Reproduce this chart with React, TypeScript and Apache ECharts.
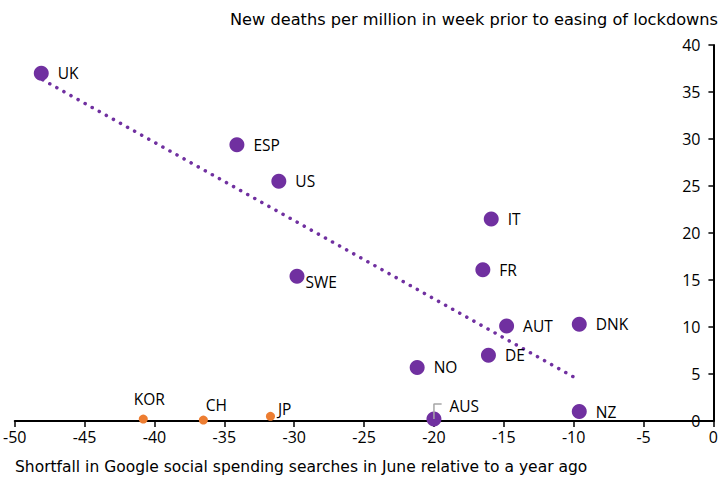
import React, { useEffect, useRef } from "react";
import * as echarts from "echarts";

const PURPLE = "#7030A0";
const ORANGE = "#ED7D31";

// Purple group: [shortfall, deaths]
const purpleNames = ["UK", "ESP", "US", "SWE", "IT", "FR", "AUT", "DNK", "DE", "NO", "AUS", "NZ"];
const purpleX = [-48.1, -34.1, -31.1, -29.8, -15.9, -16.5, -14.8, -9.6, -16.1, -21.2, -20.0, -9.6];
const purpleY = [37.0, 29.4, 25.5, 15.4, 21.5, 16.1, 10.1, 10.3, 7.0, 5.7, 0.2, 1.0];

// Orange group
const orangeNames = ["KOR", "CH", "JP"];
const orangeX = [-40.8, -36.5, -31.7];
const orangeY = [0.2, 0.1, 0.5];

// Linear trend line (purple group), endpoints
const trendX = [-48.0, -9.9];
const trendY = [36.3, 4.6];

const xTicks = { min: -50, max: 0, interval: 5 };
const yTicks = { min: 0, max: 40, interval: 5 };

const xTitle = "Shortfall in Google social spending searches in June relative to a year ago";
const yTitle = "New deaths per million in week prior to easing of lockdowns";

const LABEL_FONT = "'Open Sans', 'Noto Sans', sans-serif";
const TITLE_FONT = "'DejaVu Sans', 'Liberation Sans', Arial, sans-serif";

export default function App() {
  const ref = useRef<HTMLDivElement>(null);

  useEffect(() => {
    if (!ref.current) return;
    const chart = echarts.init(ref.current, undefined, { renderer: "svg" });

    const purpleData = purpleNames.map((name, i) => {
      const item: any = { name, value: [purpleX[i], purpleY[i]] };
      if (name === "SWE") item.label = { offset: [-8, 6] };
      if (name === "AUS") {
        item.label = { position: "right", distance: 8, offset: [0, -13] };
      }
      return item;
    });

    const orangeData = orangeNames.map((name, i) => {
      const item: any = { name, value: [orangeX[i], orangeY[i]] };
      if (name === "KOR") item.label = { position: "top", distance: 8, offset: [6, 0] };
      if (name === "CH") item.label = { position: "top", distance: 3, offset: [13, 0] };
      if (name === "JP") item.label = { position: "right", distance: 3, offset: [0, -7] };
      return item;
    });

    const trend = trendX.map((x, i) => [x, trendY[i]]);

    const option: any = {
      animation: false,
      backgroundColor: "#ffffff",
      textStyle: { fontFamily: LABEL_FONT },
      title: [
        {
          text: yTitle,
          right: 3,
          top: 11,
          padding: 0,
          textStyle: { fontFamily: TITLE_FONT, fontSize: 16.2, fontWeight: "normal", color: "#000" },
        },
        {
          text: xTitle,
          left: 15,
          top: 459,
          padding: 0,
          textStyle: { fontFamily: TITLE_FONT, fontSize: 15.5, fontWeight: "normal", color: "#000" },
        },
      ],
      grid: { left: 12, right: 5, top: 45, bottom: 60, containLabel: false },
      xAxis: {
        type: "value",
        min: xTicks.min,
        max: xTicks.max,
        interval: xTicks.interval,
        axisLine: { show: true, onZero: false, lineStyle: { color: "#000", width: 2 } },
        axisTick: { show: true, length: 6, lineStyle: { color: "#000", width: 1.5 } },
        axisLabel: { color: "#000", fontSize: 16, fontFamily: LABEL_FONT, margin: 8 },
        splitLine: { show: false },
      },
      yAxis: {
        type: "value",
        position: "right",
        min: yTicks.min,
        max: yTicks.max,
        interval: yTicks.interval,
        axisLine: { show: true, lineStyle: { color: "#000", width: 2 } },
        axisTick: { show: true, inside: true, length: 5, lineStyle: { color: "#000", width: 1.5 } },
        axisLabel: { inside: true, color: "#000", fontSize: 16, fontFamily: LABEL_FONT, margin: 13 },
        splitLine: { show: false },
      },
      series: [
        {
          type: "line",
          data: trend,
          symbol: "none",
          z: 3,
          lineStyle: { color: PURPLE, width: 3.5, type: [0.1, 8], cap: "round" },
        },
        {
          type: "scatter",
          data: purpleData,
          symbolSize: 15,
          z: 4,
          itemStyle: { color: PURPLE, opacity: 1 },
          label: {
            show: true,
            position: "right",
            distance: 9,
            formatter: "{b}",
            color: "#000",
            fontSize: 15.5,
            fontFamily: LABEL_FONT,
          },
        },
        {
          type: "scatter",
          data: orangeData,
          symbolSize: 9,
          z: 4,
          itemStyle: { color: ORANGE, opacity: 1 },
          label: {
            show: true,
            formatter: "{b}",
            color: "#000",
            fontSize: 15.5,
            fontFamily: LABEL_FONT,
          },
        },
        {
          // leader for AUS label
          type: "line",
          symbol: "none",
          z: 5,
          data: [
            [purpleX[10], purpleY[10]],
            [purpleX[10], purpleY[10] + 1.6],
            [purpleX[10] + 0.55, purpleY[10] + 1.6],
          ],
          lineStyle: { color: "#A6A6A6", width: 1.5 },
        },
      ],
    };

    chart.setOption(option);
    return () => chart.dispose();
  }, []);

  return (
    <div
      ref={ref}
      style={{ position: "fixed", left: 0, top: 0, width: 721, height: 481 }}
    />
  );
}
